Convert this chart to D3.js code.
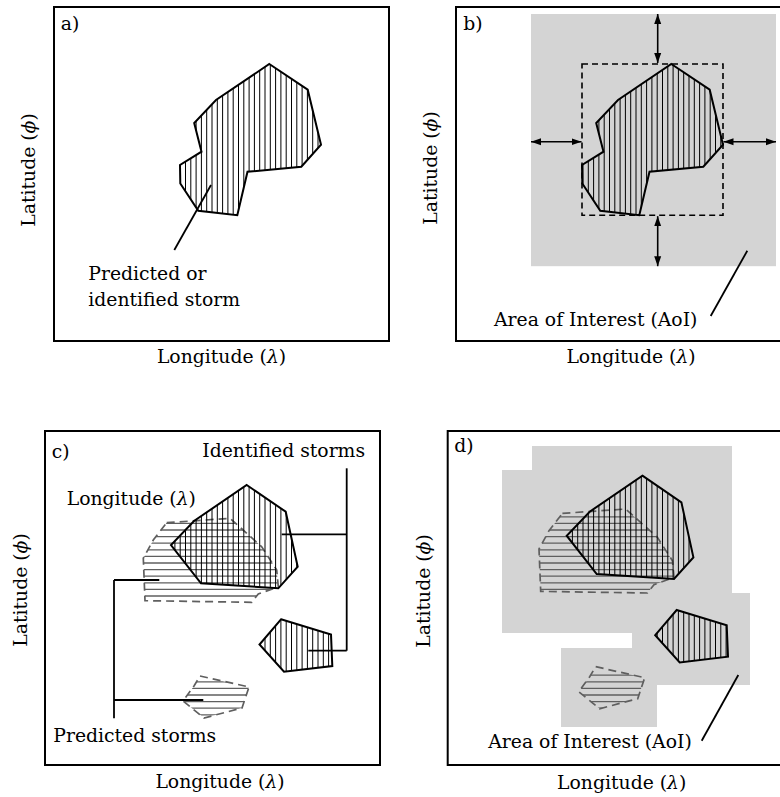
<!DOCTYPE html>
<html>
<head>
<meta charset="utf-8">
<script src="https://cdn.jsdelivr.net/npm/d3@7"></script>
<style>
  body { margin: 0; background: #fff; }
</style>
</head>
<body>
<svg id="fig" width="780" height="797"></svg>
<script>
// Storm outlines in map units: [lon, lat], lat grows upward
const stormSingle = [[215.3,277],[253.7,251.3],[267,196.3],[247.3,174.3],[193.5,169.2],[183.3,125.8],
                     [144.3,130.3],[126.3,157.5],[126,176],[147.5,189.3],[140.2,218],[162,241]];
const identifiedBig = [[201.7,280],[240.7,253.3],[252.7,198.3],[233.3,176.7],[156,181.7],[126,220],[149,244]];
const identifiedSmall = [[236,145.7],[286,130.5],[287.3,99],[239,93.3],[214.5,120.5]];
const predictedBig = [[121.7,242.3],[185,246.7],[216.7,218.3],[231.7,195],[233.3,178.3],[213.3,171],
                      [206.7,162.7],[100,164.3],[98.3,206.7],[108.3,225]];
const predictedSmall = [[155,89],[204,78],[197,57],[159,47],[138,64],[149,79]];

// AoI of panel b: storm extent grown by these margins (map units)
const aoiMargin = { top: 50, right: 53, bottom: 51, left: 51 };
const arrowLon = 201.7, arrowLat = 199.3;

// AoI boxes of panel d (lon range, lat range)
const aoiBoxesD = [
  { lon: [91.3, 291.3],  lat: [143.7, 309.7] },
  { lon: [61.3, 271.3],  lat: [122.7, 285.7] },
  { lon: [191.3, 309.3], lat: [70.7, 162.7] },
  { lon: [120.3, 216.3], lat: [28.7, 107.7] }
];

// Liberation Serif falls back to a sans face here, DejaVu Serif is what renders
const svg = d3.select("#fig")
    .style("font-family", "DejaVu Serif").style("font-size", "18.8px");
const defs = svg.append("defs");
const GRAY = "#d4d4d4", PRED = "#5f5f5f";
let clipId = 0;

defs.append("marker")
    .attr("id", "head")
    .attr("markerUnits", "userSpaceOnUse")
    .attr("markerWidth", 11).attr("markerHeight", 8)
    .attr("refX", 10).attr("refY", 4)
    .attr("orient", "auto-start-reverse")
  .append("path").attr("d", "M0,0.5 L10,4 L0,7.5 Z").attr("fill", "#000");

function makePanel(x0, y0, lonDom, latDom) {
    const x = d3.scaleLinear().domain(lonDom).range([x0, x0 + 335]);
    const y = d3.scaleLinear().domain(latDom).range([y0 + 334, y0]);
    const g = svg.append("g");
    return { g, x, y, x0, y0 };
}

const line = p => d3.line().x(d => p.x(d[0])).y(d => p.y(d[1]));

// polygon with hatch lines clipped to it
function storm(p, pts, opt) {
    const id = "clip" + (clipId++);
    const d = line(p)(pts) + "Z";
    defs.append("clipPath").attr("id", id).append("path").attr("d", d);
    const xs = pts.map(q => p.x(q[0])), ys = pts.map(q => p.y(q[1]));
    const [xa, xb] = d3.extent(xs), [ya, yb] = d3.extent(ys);
    const h = p.g.append("g").attr("clip-path", `url(#${id})`);
    if (opt.vertical) {
        const s = 5.3;
        h.selectAll("line").data(d3.range(Math.ceil(xa / s) * s, xb, s)).join("line")
            .attr("x1", v => v).attr("x2", v => v).attr("y1", ya).attr("y2", yb)
            .attr("stroke", "#000").attr("stroke-width", 1);
    } else {
        const s = 6.6;
        h.selectAll("line").data(d3.range(Math.ceil(ya / s) * s + 2, yb, s)).join("line")
            .attr("y1", v => v).attr("y2", v => v).attr("x1", xa).attr("x2", xb)
            .attr("stroke", PRED).attr("stroke-width", 1.3);
    }
    p.g.append("path").attr("d", d).attr("fill", "none")
        .attr("stroke", opt.vertical ? "#000" : PRED)
        .attr("stroke-width", opt.vertical ? 2 : 1.7)
        .attr("stroke-linejoin", "miter")
        .attr("stroke-dasharray", opt.vertical ? null : "8,5");
}

function leader(p, pts, w) {
    p.g.append("path").attr("d", line(p)(pts)).attr("fill", "none")
        .attr("stroke", "#000").attr("stroke-width", w || 1.8);
}

function label(p, lon, lat, str) {
    p.g.append("text").attr("x", p.x(lon)).attr("y", p.y(lat)).text(str);
}

function greekLabel(sel, before, greek, after) {
    sel.append("tspan").text(before);
    sel.append("tspan").attr("font-style", "italic").text(greek);
    sel.append("tspan").text(after);
}

function frame(p, tag, tagPos, lonPos, latPos) {
    p.g.append("rect").attr("x", p.x0).attr("y", p.y0).attr("width", 335).attr("height", 334)
        .attr("fill", "none").attr("stroke", "#000").attr("stroke-width", 2);
    p.g.append("text").attr("x", tagPos[0]).attr("y", tagPos[1]).text(tag);
    greekLabel(p.g.append("text").attr("x", lonPos[0]).attr("y", lonPos[1]).attr("text-anchor", "middle"),
        "Longitude (", "λ", ")");
    greekLabel(p.g.append("text").attr("text-anchor", "middle")
        .attr("transform", `translate(${latPos[0]},${latPos[1]}) rotate(-90)`),
        "Latitude (", "ϕ", ")");
}

// ---- a) single storm
const pa = makePanel(54, 7, [0, 335], [0, 334]);
storm(pa, stormSingle, { vertical: true });
leader(pa, [[157, 156], [120.3, 91]]);
label(pa, 34.3, 61, "Predicted or");
label(pa, 34.3, 35, "identified storm");
frame(pa, "a)", [60.7, 30], [221.5, 363], [35, 170]);

// ---- b) AoI around the storm
const pb = makePanel(456, 7, [0, 335], [0, 334]);
const lonExt = d3.extent(stormSingle, d => d[0]), latExt = d3.extent(stormSingle, d => d[1]);
const aoi = { l: lonExt[0] - aoiMargin.left, r: lonExt[1] + aoiMargin.right,
              b: latExt[0] - aoiMargin.bottom, t: latExt[1] + aoiMargin.top };
pb.g.append("rect").attr("x", pb.x(aoi.l)).attr("y", pb.y(aoi.t))
    .attr("width", pb.x(aoi.r) - pb.x(aoi.l)).attr("height", pb.y(aoi.b) - pb.y(aoi.t)).attr("fill", GRAY);
storm(pb, stormSingle, { vertical: true });
pb.g.append("rect").attr("x", pb.x(lonExt[0])).attr("y", pb.y(latExt[1]))
    .attr("width", pb.x(lonExt[1]) - pb.x(lonExt[0])).attr("height", pb.y(latExt[0]) - pb.y(latExt[1]))
    .attr("fill", "none").attr("stroke", "#000").attr("stroke-width", 1.6).attr("stroke-dasharray", "6,4");
const arrows = [
    [[arrowLon, aoi.t], [arrowLon, latExt[1] + 1]],
    [[arrowLon, latExt[0] - 1], [arrowLon, aoi.b]],
    [[aoi.l, arrowLat], [lonExt[0] - 0.5, arrowLat]],
    [[lonExt[1] + 0.5, arrowLat], [aoi.r, arrowLat]]
];
arrows.forEach(a => pb.g.append("path").attr("d", line(pb)(a)).attr("stroke", "#000").attr("stroke-width", 1.6)
    .attr("marker-start", "url(#head)").attr("marker-end", "url(#head)"));
leader(pb, [[291.3, 90.3], [254.7, 25]]);
label(pb, 38, 15, "Area of Interest (AoI)");
frame(pb, "b)", [463.3, 30], [631, 363], [437, 168]);

// ---- c) predicted vs identified
const pc = makePanel(45, 431, [0, 335], [0, 334]);
storm(pc, predictedBig, { vertical: false });
storm(pc, predictedSmall, { vertical: false });
storm(pc, identifiedBig, { vertical: true });
storm(pc, identifiedSmall, { vertical: true });
leader(pc, [[236.7, 230.7], [301.7, 230.7]]);
leader(pc, [[301.7, 296.7], [301.7, 114.3]]);
leader(pc, [[263.3, 114.3], [301.7, 114.3]]);
leader(pc, [[69, 185], [69, 46.7]]);
leader(pc, [[69, 185], [114.3, 185]]);
leader(pc, [[69, 65], [158.3, 65]]);
label(pc, 157.3, 307.7, "Identified storms");
greekLabel(pc.g.append("text").attr("x", pc.x(21.7)).attr("y", pc.y(260)), "Longitude (", "λ", ")");
label(pc, 8.3, 23.3, "Predicted storms");
frame(pc, "c)", [51.7, 458], [220, 788], [27, 590]);

// ---- d) union of AoIs
const pd = makePanel(447.7, 431, [7, 342], [-9.3, 324.7]);
pd.g.selectAll("rect.aoi").data(aoiBoxesD).join("rect").attr("class", "aoi")
    .attr("x", d => pd.x(d.lon[0])).attr("y", d => pd.y(d.lat[1]))
    .attr("width", d => pd.x(d.lon[1]) - pd.x(d.lon[0]))
    .attr("height", d => pd.y(d.lat[0]) - pd.y(d.lat[1]))
    .attr("fill", GRAY);
storm(pd, predictedBig, { vertical: false });
storm(pd, predictedSmall, { vertical: false });
storm(pd, identifiedBig, { vertical: true });
storm(pd, identifiedSmall, { vertical: true });
leader(pd, [[297.6, 80.7], [261, 15]]);
label(pd, 47.6, 7.4, "Area of Interest (AoI)");
frame(pd, "d)", [454.3, 452], [621.7, 789], [430, 591]);
</script>
</body>
</html>
